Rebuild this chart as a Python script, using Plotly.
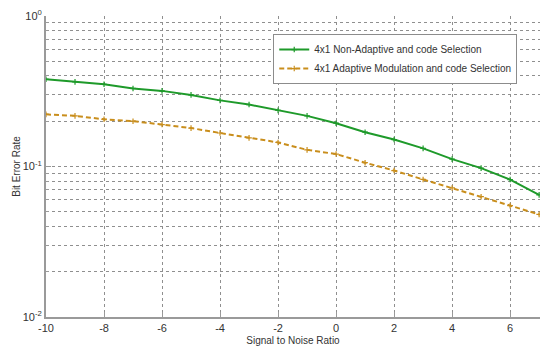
import plotly.graph_objects as go

# Signal-to-noise ratio (dB)
snr = [-10, -9, -8, -7, -6, -5, -4, -3, -2, -1, 0, 1, 2, 3, 4, 5, 6, 7]

# Bit error rate per scheme
ber_non_adaptive = [0.38, 0.365, 0.352, 0.33, 0.318, 0.299, 0.275, 0.258, 0.236, 0.217,
                    0.194, 0.169, 0.151, 0.132, 0.112, 0.0975, 0.0819, 0.0648]
ber_adaptive = [0.222, 0.217, 0.206, 0.2, 0.19, 0.18, 0.167, 0.155, 0.1445, 0.129,
                0.121, 0.106, 0.094, 0.082, 0.072, 0.063, 0.055, 0.048]

x_ticks = [-10, -8, -6, -4, -2, 0, 2, 4, 6]
x_tick_text = ["-10", "-8", "-6", "-4", "-2", "0", "2", "4", "6"]
y_ticks = [0.01, 0.1, 1]
y_tick_text = ["10<sup>-2</sup>", "10<sup>-1</sup>", "10<sup>0</sup>"]
y_minor = [m * 10 ** e for e in (-2, -1) for m in range(2, 10)]

font_family = "Liberation Sans, Arial, sans-serif"
grid_color = "#8f8f8f"
axis_color = "#9a9a9a"

fig = go.Figure()
fig.add_trace(go.Scatter(
    x=snr, y=ber_non_adaptive, mode="lines+markers",
    name="4x1 Non-Adaptive and code Selection",
    line=dict(color="#1e9a2a", width=2),
    marker=dict(symbol="cross-thin", size=4, line=dict(color="#1e9a2a", width=1.2)),
))
fig.add_trace(go.Scatter(
    x=snr, y=ber_adaptive, mode="lines+markers",
    name="4x1 Adaptive Modulation and code Selection",
    line=dict(color="#c98e1c", width=2, dash="5px,3px"),
    marker=dict(symbol="cross-thin", size=4, line=dict(color="#c98e1c", width=1.2)),
))

fig.update_layout(
    width=540, height=347,
    margin=dict(l=46, r=0, t=16, b=30),
    paper_bgcolor="white", plot_bgcolor="white",
    font=dict(family=font_family, size=10, color="#333333"),
    showlegend=True,
    legend=dict(
        x=0.46, y=0.94, xanchor="left", yanchor="top",
        bgcolor="white", bordercolor="#8c8c8c", borderwidth=1,
        font=dict(size=10, color="#333333"),
        tracegroupgap=0, itemwidth=30,
    ),
)

fig.update_xaxes(
    range=[-10, 7.03], tickvals=x_ticks, ticktext=x_tick_text,
    showline=True, linecolor=axis_color, linewidth=2,
    ticks="inside", ticklen=5, tickcolor=axis_color,
    showgrid=True, gridcolor=grid_color, griddash="dot", gridwidth=1,
    zeroline=False,
    title=dict(text="Signal to Noise Ratio", standoff=4, font=dict(size=10)),
    tickfont=dict(size=11),
)
fig.update_yaxes(
    type="log", range=[-2, 0],
    tickvals=y_ticks, ticktext=y_tick_text,
    showline=True, linecolor=axis_color, linewidth=2,
    ticks="inside", ticklen=5, tickcolor=axis_color,
    showgrid=True, gridcolor=grid_color, griddash="dot", gridwidth=1,
    minor=dict(tickvals=y_minor, showgrid=True, gridcolor=grid_color,
               griddash="dot", gridwidth=1, ticks="inside", ticklen=3,
               tickcolor=axis_color),
    zeroline=False,
    title=dict(text="Bit Error Rate", standoff=0, font=dict(size=10)),
    tickfont=dict(size=11),
)

fig.write_html("out.html")
